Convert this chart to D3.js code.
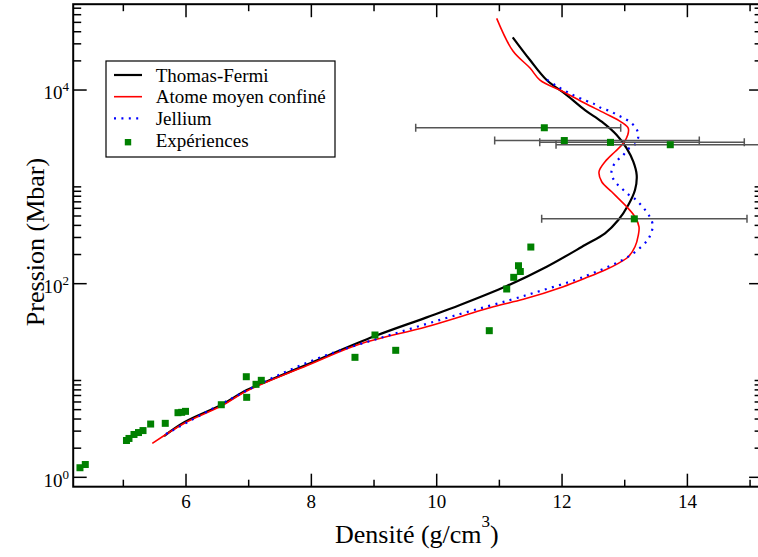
<!DOCTYPE html>
<html><head><meta charset="utf-8">
<script src="https://cdn.jsdelivr.net/npm/d3@7"></script>
<style>body{margin:0;background:#fff}svg{display:block}text{font-family:"Liberation Serif","Times New Roman",serif;fill:#000}</style>
</head><body>
<script>
// ---- data ----
const tfDens = [5.65,5.98,6.56,6.97,7.34,7.99,8.245,9.015,9.84,10.372,11.117,11.755,12.366,12.686,12.898,13.057,13.164,13.191,13.137,13.032,12.872,12.633,12.366,12.074,11.755,11.489,11.213];
const tfPres = [2.67,3.72,5.58,7.97,10.1,15.15,17.9,28.8,44.9,60.2,94.5,149.6,250.6,331,454,649,927,1324,1817,2499,3428,4705,6214,8877,12680,20400,35000];

const amcDens = [5.462,5.98,6.56,6.97,7.99,8.776,9.84,10.903,11.382,12.02,12.366,12.686,12.898,13.057,13.164,13.217,13.228,13.164,13.032,12.898,12.792,12.633,12.59,12.686,12.845,12.978,13.048,13.057,12.952,12.686,12.366,12.02,11.648,11.489,11.217,10.957];
const amcPres = [2.24,3.64,5.45,7.79,14.8,23.8,35.9,57.8,68.9,93.0,113.6,138.3,162.2,189.7,240.7,318,387,491,623,761,890,1129,1432,1817,2305,2814,3428,4021,4638,5744,7288,9599,12680,16870,25270,55000];

const jelDens = [5.681,6.56,7.34,8.245,9.307,10.372,11.17,11.701,12.207,12.457,12.701,12.941,13.164,13.356,13.42,13.447,13.404,13.335,13.249,13.153,13.048,12.952,12.856,12.792,12.802,12.888,12.968,13.057,13.164,13.217,13.191,13.112,12.993,12.882,12.765,12.633,12.526,12.393,12.154,11.915,11.701];
const jelPres = [2.80,5.71,10.36,18.3,30.2,48.6,67.8,86.0,109.0,125.8,146.1,172.6,212.3,277.6,331,403,484,567,660,761,843,965,1113,1324,1576,1892,2096,2458,2748,3293,3926,4529,5099,5515,6067,6468,7115,7694,9024,10990,13520];

const expDens = [4.308,4.393,5.05,5.09,5.17,5.242,5.314,5.436,5.669,5.872,5.931,5.992,6.563,6.962,6.968,7.117,7.201,8.696,9.015,9.346,10.839,11.117,11.229,11.305,11.334,11.502,11.717,12.036,12.773,13.727,13.153];
const expPres = [1.256,1.356,2.40,2.52,2.77,2.90,3.04,3.55,3.61,4.65,4.69,4.80,5.62,10.94,6.70,9.13,10.04,17.35,29.5,20.5,32.7,88.1,116.3,153.2,133.5,239,4077,3009,2882,2722,467];
// horizontal error bars (density range) for the high-pressure points
const errDens = [11.717,12.036,12.773,13.727,13.153];
const errPres = [4077,3009,2882,2722,467];
const errLow  = [9.665,10.925,11.644,11.904,11.675];
const errHigh = [12.936,14.19,14.908,15.4,14.951];

const xMajor = [6,8,10,12,14];
const xMinor = [5,7,9,11,13,15];
const xTickLabels = ["6","8","10","12","14"];
const yMajor = [1,100,10000];
const yMinor = [2,3,4,5,6,7,8,9,10,200,300,400,500,600,700,800,900,1000,20000,30000,40000,50000,60000,70000];
const yTickExp = ["0","2","4"];
const legendLabels = ["Thomas-Fermi","Atome moyen confiné","Jellium","Expériences"];

// ---- layout ----
const W = 758, H = 557;
const L = 73.2, R = 762.6, T = 4.2, B = 486.7;
const x = d3.scaleLinear().domain([4.2, 15.2]).range([L, R]);
const y = d3.scaleLog().domain([0.8, 77000]).range([B, T]);

const svg = d3.select("body").append("svg").attr("width", W).attr("height", H);
svg.append("defs").append("clipPath").attr("id","clip")
  .append("rect").attr("x",L).attr("y",T).attr("width",R-L).attr("height",B-T);

const plot = svg.append("g").attr("clip-path","url(#clip)");
const line = d3.line().x(d=>x(d[0])).y(d=>y(d[1])).curve(d3.curveCatmullRom.alpha(0.5));
const zip = (a,b)=>a.map((v,i)=>[v,b[i]]);

plot.append("path").attr("d", line(zip(tfDens,tfPres))).attr("fill","none").attr("stroke","#000").attr("stroke-width",2.2);
plot.append("path").attr("d", line(zip(amcDens,amcPres))).attr("fill","none").attr("stroke","#ff0000").attr("stroke-width",1.6);
plot.append("path").attr("d", line(zip(jelDens,jelPres))).attr("fill","none").attr("stroke","#0000ff").attr("stroke-width",2.2).attr("stroke-dasharray","2 5.4");

// error bars
const eb = plot.append("g").attr("stroke","#555").attr("stroke-width",1.5);
errDens.forEach((d,i)=>{
  const yy = y(errPres[i]);
  eb.append("line").attr("x1",x(errLow[i])).attr("x2",x(errHigh[i])).attr("y1",yy).attr("y2",yy);
  eb.append("line").attr("x1",x(errLow[i])).attr("x2",x(errLow[i])).attr("y1",yy-4).attr("y2",yy+4);
  eb.append("line").attr("x1",x(errHigh[i])).attr("x2",x(errHigh[i])).attr("y1",yy-4).attr("y2",yy+4);
});
// squares
const sq = 7;
plot.append("g").selectAll("rect").data(zip(expDens,expPres)).join("rect")
  .attr("x",d=>x(d[0])-sq/2).attr("y",d=>y(d[1])-sq/2).attr("width",sq).attr("height",sq)
  .attr("fill","#008000");

// ---- axes ----
const ax = svg.append("g").attr("stroke","#000").attr("stroke-width",1.5);
xMajor.forEach(v=>{
  ax.append("line").attr("x1",x(v)).attr("x2",x(v)).attr("y1",B).attr("y2",B-13);
  ax.append("line").attr("x1",x(v)).attr("x2",x(v)).attr("y1",T).attr("y2",T+13);
});
xMinor.forEach(v=>{
  ax.append("line").attr("x1",x(v)).attr("x2",x(v)).attr("y1",B).attr("y2",B-7);
  ax.append("line").attr("x1",x(v)).attr("x2",x(v)).attr("y1",T).attr("y2",T+7);
});
yMajor.forEach(v=>{
  ax.append("line").attr("x1",L).attr("x2",L+13.5).attr("y1",y(v)).attr("y2",y(v));
  ax.append("line").attr("x1",R).attr("x2",R-13.5).attr("y1",y(v)).attr("y2",y(v));
});
yMinor.forEach(v=>{
  ax.append("line").attr("x1",L).attr("x2",L+8).attr("y1",y(v)).attr("y2",y(v));
  ax.append("line").attr("x1",R).attr("x2",R-8).attr("y1",y(v)).attr("y2",y(v));
});
svg.append("rect").attr("x",L).attr("y",T).attr("width",R-L).attr("height",B-T)
  .attr("fill","none").attr("stroke","#000").attr("stroke-width",2);

// tick labels
xMajor.forEach((v,i)=>{
  svg.append("text").attr("x",x(v)).attr("y",507.5).attr("text-anchor","middle")
    .attr("font-size",19).text(xTickLabels[i]);
});
yMajor.forEach((v,i)=>{
  const t = svg.append("text").attr("x",69).attr("y",y(v)+9.3).attr("text-anchor","end").attr("font-size",19);
  t.append("tspan").text("10");
  t.append("tspan").attr("dy",-8).attr("font-size",13).text(yTickExp[i]);
});

// axis titles
const xt = svg.append("text").attr("x",335).attr("y",542.7).attr("font-size",26);
xt.append("tspan").text("Densité (g/cm");
xt.append("tspan").attr("dy",-16).attr("font-size",17).text("3");
xt.append("tspan").attr("dy",16).text(")");
svg.append("text").attr("transform","translate(43.5,242) rotate(-90)").attr("text-anchor","middle")
  .attr("font-size",26).text("Pression (Mbar)");

// ---- legend ----
const lg = svg.append("g");
lg.append("rect").attr("x",106).attr("y",61).attr("width",229).attr("height",96)
  .attr("fill","#fff").attr("stroke","#000").attr("stroke-width",1.2);
const rowBase = [81.6,103.3,125,146.7];
lg.append("line").attr("x1",114).attr("x2",142).attr("y1",rowBase[0]-6.6).attr("y2",rowBase[0]-6.6).attr("stroke","#000").attr("stroke-width",2.2);
lg.append("line").attr("x1",114).attr("x2",142).attr("y1",rowBase[1]-6.6).attr("y2",rowBase[1]-6.6).attr("stroke","#ff0000").attr("stroke-width",1.6);
lg.append("line").attr("x1",114).attr("x2",142).attr("y1",rowBase[2]-6.6).attr("y2",rowBase[2]-6.6).attr("stroke","#0000ff").attr("stroke-width",2.2).attr("stroke-dasharray","2 5.4");
lg.append("rect").attr("x",128-3.2).attr("y",rowBase[3]-4.5-3.2).attr("width",6.4).attr("height",6.4).attr("fill","#008000");
legendLabels.forEach((s,i)=>{
  lg.append("text").attr("x",155.7).attr("y",rowBase[i]).attr("font-size",19).text(s);
});
</script>
</body></html>
